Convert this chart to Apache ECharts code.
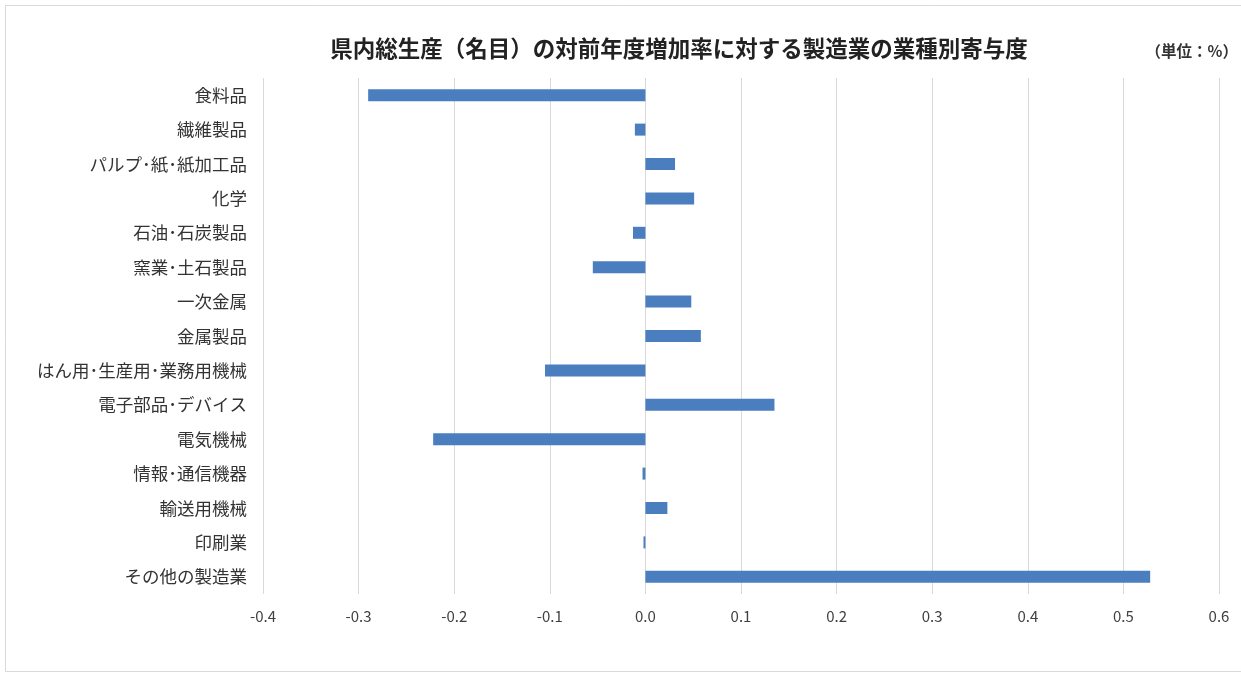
<!DOCTYPE html>
<html>
<head>
<meta charset="utf-8">
<script src="https://cdn.jsdelivr.net/npm/echarts@6/dist/echarts.min.js"></script>
<style>
html,body{margin:0;padding:0;background:#fff;}
#chart{width:1241px;height:673px;}
</style>
</head>
<body>
<div id="chart"></div>
<script>
const categories = ["食料品","繊維製品","パルプ･紙･紙加工品","化学","石油･石炭製品","窯業･土石製品","一次金属","金属製品","はん用･生産用･業務用機械","電子部品･デバイス","電気機械","情報･通信機器","輸送用機械","印刷業","その他の製造業"];
const values = [-0.290,-0.011,0.031,0.051,-0.013,-0.055,0.048,0.058,-0.105,0.135,-0.222,-0.003,0.023,-0.002,0.528];
const xTicks = {min:-0.4, max:0.6, interval:0.1};

const chart = echarts.init(document.getElementById('chart'));
const font = '"Noto Sans CJK JP","Noto Sans",sans-serif';
chart.setOption({
  backgroundColor:'#fff',
  animation:false,
  title:[{
    text:'県内総生産（名目）の対前年度増加率に対する製造業の業種別寄与度',
    left:674, top:32, textAlign:'center',
    textStyle:{fontFamily:font,fontSize:22.5,fontWeight:'bold',color:'#222'}
  },{
    text:'（単位：%）',
    left:1233, top:38, textAlign:'right',
    textStyle:{fontFamily:font,fontSize:15.5,fontWeight:'bold',color:'#333'}
  }],
  graphic:[{type:'rect',shape:{x:5.5,y:5.5,width:1250,height:666},style:{fill:'none',stroke:'#d9d9d9',lineWidth:1},silent:true}],
  grid:{left:263,right:22,top:78,bottom:79,containLabel:false},
  xAxis:{
    type:'value',min:xTicks.min,max:xTicks.max,interval:xTicks.interval,
    axisLine:{show:false},axisTick:{show:false},
    splitLine:{show:true,lineStyle:{color:'#d9d9d9',width:1}},
    axisLabel:{fontFamily:font,fontSize:15,color:'#404040',margin:15,formatter:v=>v.toFixed(1)}
  },
  yAxis:{
    type:'category',data:categories,inverse:true,
    axisLine:{show:false},axisTick:{show:false},splitLine:{show:false},
    axisLabel:{fontFamily:font,fontSize:17.5,color:'#333',margin:16}
  },
  series:[{
    type:'bar',data:values,barWidth:12,
    itemStyle:{color:'#4A7EBF'}
  }]
});
</script>
</body>
</html>
